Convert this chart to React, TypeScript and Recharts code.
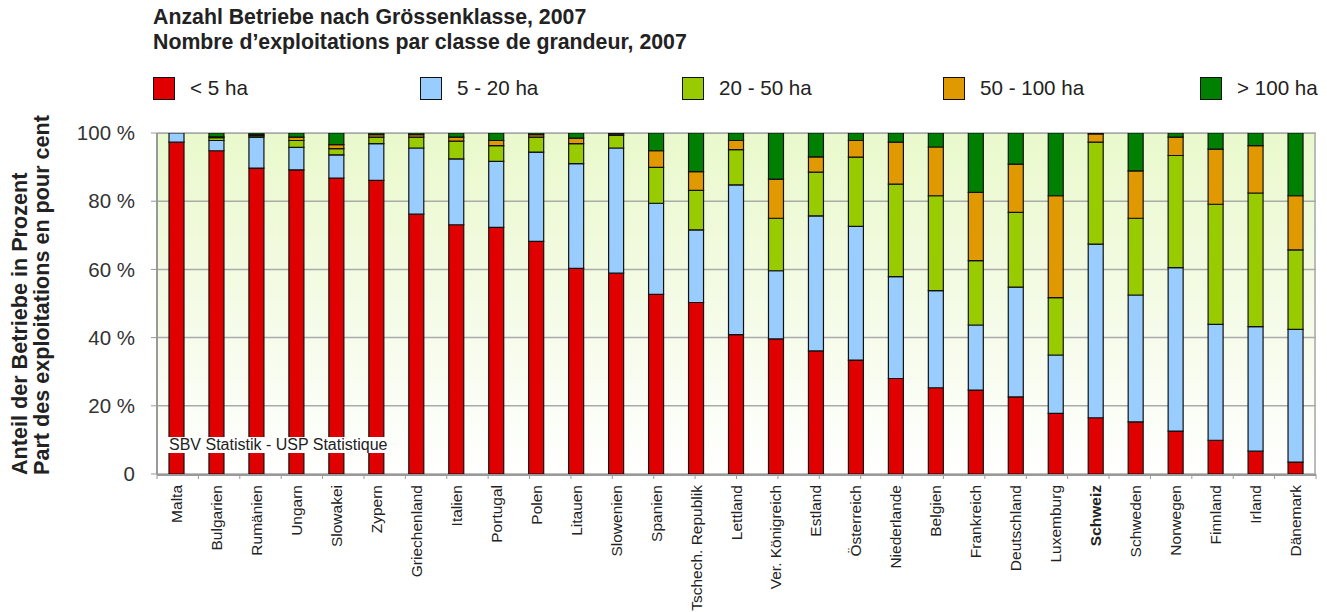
import React from 'react';
import { BarChart, Bar, XAxis, YAxis, CartesianGrid } from 'recharts';

const countries = [
  'Malta', 'Bulgarien', 'Rumänien', 'Ungarn', 'Slowakei', 'Zypern', 'Griechenland', 'Italien',
  'Portugal', 'Polen', 'Litauen', 'Slowenien', 'Spanien', 'Tschech. Republik', 'Lettland',
  'Ver. Königreich', 'Estland', 'Österreich', 'Niederlande', 'Belgien', 'Frankreich',
  'Deutschland', 'Luxemburg', 'Schweiz', 'Schweden', 'Norwegen', 'Finnland', 'Irland', 'Dänemark',
];

const under5 = [97.3, 94.8, 89.7, 89.2, 86.8, 86.1, 76.2, 73.1, 72.3, 68.2, 60.3, 58.9, 52.7, 50.3, 40.9, 39.6, 36.1, 33.4, 28.0, 25.3, 24.6, 22.6, 17.8, 16.5, 15.3, 12.6, 9.9, 6.7, 3.5];
const from5to20 = [2.7, 3.0, 9.1, 6.6, 6.8, 10.8, 19.4, 19.3, 19.4, 26.2, 30.7, 36.7, 26.7, 21.3, 43.9, 20.0, 39.6, 39.2, 29.9, 28.5, 19.1, 32.2, 17.1, 50.9, 37.2, 47.9, 34.0, 36.5, 38.9];
const from20to50 = [0, 0.8, 0.4, 2.0, 1.8, 1.9, 3.2, 5.2, 4.6, 4.4, 5.9, 3.7, 10.5, 11.6, 10.3, 15.4, 12.8, 20.3, 27.1, 27.8, 18.9, 21.9, 16.8, 29.9, 22.5, 32.9, 35.2, 39.2, 23.3];
const from50to100 = [0, 0.3, 0.3, 1.0, 1.2, 0.7, 0.7, 1.2, 1.5, 0.7, 1.6, 0.4, 4.9, 5.5, 2.7, 11.5, 4.5, 4.9, 12.3, 14.3, 20.0, 14.2, 29.9, 2.4, 13.9, 5.4, 16.2, 13.9, 15.9];
const over100 = [0, 1.1, 0.5, 1.2, 3.4, 0.5, 0.5, 1.2, 2.2, 0.5, 1.5, 0.3, 5.2, 11.3, 2.2, 13.5, 7.0, 2.2, 2.7, 4.1, 17.4, 9.1, 18.4, 0.3, 11.1, 1.2, 4.7, 3.7, 18.4];

const yTicks = [0, 20, 40, 60, 80, 100];
// tick marks between the categories
const boundaryTicks = [...countries.map((_, i) => i), countries.length];

const series = [
  { key: 'under5', label: '< 5 ha', color: '#e00000' },
  { key: 'from5to20', label: '5 - 20 ha', color: '#99ccff' },
  { key: 'from20to50', label: '20 - 50 ha', color: '#99cc00' },
  { key: 'from50to100', label: '50 - 100 ha', color: '#e09900' },
  { key: 'over100', label: '> 100 ha', color: '#008000' },
];

const data = countries.map((name, i) => ({
  name,
  under5: under5[i],
  from5to20: from5to20[i],
  from20to50: from20to50[i],
  from50to100: from50to100[i],
  over100: over100[i],
}));

const font = '"Liberation Sans", Arial, sans-serif';
const legendX = [153, 420, 682, 943, 1200];

function CountryTick(props: any) {
  const { x, y, payload } = props;
  const bold = payload.value === 'Schweiz';
  return (
    <text
      transform={`translate(${x + 5},${y + 2}) rotate(-90)`}
      textAnchor="end"
      fontSize={15.5}
      fontFamily={font}
      fontWeight={bold ? 'bold' : 'normal'}
      fill="#222"
    >
      {payload.value}
    </text>
  );
}

function NoLabel() {
  return <g />;
}

export default function App() {
  return (
    <div style={{ position: 'absolute', left: 0, top: 0, width: 1327, height: 612, background: '#fff', fontFamily: font }}>
      <div style={{ position: 'absolute', left: 153, top: 5, fontSize: 21.3, fontWeight: 'bold', color: '#222', lineHeight: '25px' }}>
        <div>Anzahl Betriebe nach Grössenklasse, 2007</div>
        <div>Nombre d’exploitations par classe de grandeur, 2007</div>
      </div>

      {series.map((s, i) => (
        <div key={s.key} style={{ position: 'absolute', left: legendX[i], top: 76, display: 'flex', alignItems: 'center' }}>
          <div style={{ width: 22, height: 23, background: s.color, border: '1px solid #111', boxSizing: 'border-box' }} />
          <span style={{ marginLeft: 15, fontSize: 20.6, color: '#222' }}>{s.label}</span>
        </div>
      ))}

      <div
        style={{
          position: 'absolute', left: 157, top: 133, width: 1159, height: 341,
          background: 'linear-gradient(to bottom, #eaf9cc 0%, #f4fbe6 50%, #ffffff 100%)',
          borderTop: '1px solid #aaa', borderRight: '2px solid #bbb', boxSizing: 'border-box',
        }}
      />

      <svg width={60} height={612} style={{ position: 'absolute', left: 0, top: 0 }}>
        <text transform="translate(27,475) rotate(-90)" fontSize={21.6} fontWeight="bold" fontFamily={font} fill="#222">
          Anteil der Betriebe in Prozent
        </text>
        <text transform="translate(49,475) rotate(-90)" fontSize={21.6} fontWeight="bold" fontFamily={font} fill="#222">
          Part des exploitations en pour cent
        </text>
      </svg>

      <BarChart
        width={1327}
        height={612}
        data={data}
        margin={{ top: 133, right: 11, left: 57, bottom: 0 }}
        style={{ position: 'absolute', left: 0, top: 0 }}
      >
        <CartesianGrid vertical={false} stroke="#aaa" strokeWidth={1.5} xAxisId="cat" />
        <XAxis
          xAxisId="bounds"
          type="number"
          domain={[0, countries.length]}
          ticks={boundaryTicks}
          interval={0}
          height={1}
          tick={<NoLabel />}
          tickSize={5}
          tickLine={{ stroke: '#999', strokeWidth: 1 }}
          axisLine={false}
        />
        <XAxis
          xAxisId="cat"
          dataKey="name"
          interval={0}
          height={137}
          tick={<CountryTick />}
          tickLine={false}
          axisLine={{ stroke: '#999', strokeWidth: 2 }}
        />
        <YAxis
          width={100}
          domain={[0, 100]}
          ticks={yTicks}
          allowDataOverflow
          tickFormatter={(v: number) => (v === 0 ? '0' : `${v} %`)}
          tick={{ fill: '#333', fontSize: 20.5, fontFamily: font }}
          tickSize={6}
          tickMargin={16}
          tickLine={{ stroke: '#999' }}
          axisLine={{ stroke: '#999', strokeWidth: 2 }}
        />
        {series.map((s) => (
          <Bar
            key={s.key}
            xAxisId="cat"
            dataKey={s.key}
            stackId="s"
            fill={s.color}
            stroke="#111"
            strokeWidth={1.2}
            barSize={15}
            isAnimationActive={false}
          />
        ))}
      </BarChart>

      <div style={{ position: 'absolute', left: 168, top: 437, background: '#fff', fontSize: 16, lineHeight: '16px', color: '#222', padding: '0 1px' }}>
        SBV Statistik - USP Statistique
      </div>
    </div>
  );
}
